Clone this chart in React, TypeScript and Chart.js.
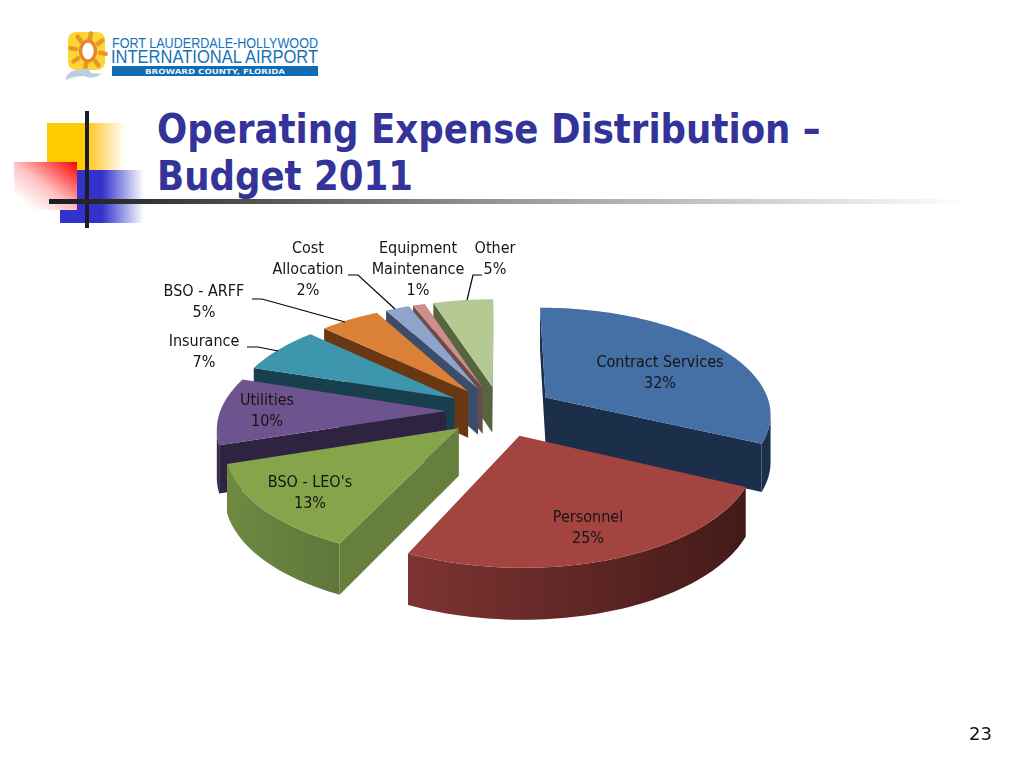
import React, { useEffect, useRef } from "react";
import { Chart, registerables } from "chart.js";

Chart.register(...registerables);

const categories = ["Contract Services", "Personnel", "BSO - LEO's", "Utilities", "Insurance", "BSO - ARFF", "Cost Allocation", "Equipment Maintenance", "Other"];
const shares = [32, 25, 13, 10, 7, 5, 2, 1, 5];
const topColors = ["#4470a6", "#a44441", "#86a54b", "#6e548e", "#3e95ae", "#da8137", "#8da5cb", "#cd8e8d", "#b4ca92"];
const wallColors = ["#1b2f4a", "#5a2422", "#667f3c", "#2e2340", "#173f4e", "#693712", "#3b4d69", "#6d4a4b", "#56653e"];
const rimFrom = ["#2a4a72", "#7d3432", "#6e8a42", "#372a4c", "#1f5566", "#7a4216", "#45597a", "#7a5354", "#64744a"];
const rimTo = ["#1b2f4a", "#431a18", "#5f763a", "#2e2340", "#173f4e", "#693712", "#3b4d69", "#6d4a4b", "#56653e"];
const drawOrder = [8, 7, 6, 5, 4, 3, 0, 2, 1];

const labelLines = [["Contract Services"], ["Personnel"], ["BSO - LEO's"], ["Utilities"], ["Insurance"], ["BSO - ARFF"], ["Cost", "Allocation"], ["Equipment", "Maintenance"], ["Other"]];
const labelAnchors = [[660, 363], [588, 518], [310, 483], [267, 401], [204, 342], [204, 292], [308, 249], [418, 249], [495, 249]];
const leaders = [
  [[348, 275], [358, 275], [395, 309]],
  [[252, 299], [262, 299], [345, 322]],
  [[247, 347], [258, 347], [278, 351]],
  [[482, 275], [473, 275], [467, 300]],
];

const VIEW = { cx: 500.5, cy: 411, rx: 226, ry: 106, persp: 0.14, explode: 0.24, depth: 47, depthGrow: 4 };
const FONT = '"DejaVu Sans Condensed", "DejaVu Sans", sans-serif';

function project(u: number, v: number) {
  const w = 1 - VIEW.persp * v;
  return { x: VIEW.cx + (VIEW.rx * u) / w, y: VIEW.cy + (VIEW.ry * v) / w, d: VIEW.depth + VIEW.depthGrow * v };
}

const pie3d = {
  id: "pie3d",
  beforeDatasetDraw(chart: any) {
    const ctx = chart.ctx;
    const arcs = chart.getDatasetMeta(0).data;
    for (const i of drawOrder) {
      const { startAngle, endAngle } = arcs[i];
      const mid = (startAngle + endAngle) / 2;
      const ox = VIEW.explode * Math.cos(mid);
      const oy = VIEW.explode * Math.sin(mid);
      const pts = [project(ox, oy)];
      const steps = Math.max(6, Math.round((endAngle - startAngle) * 40));
      for (let s = 0; s <= steps; s++) {
        const a = startAngle + ((endAngle - startAngle) * s) / steps;
        pts.push(project(ox + Math.cos(a), oy + Math.sin(a)));
      }
      const xs = pts.slice(1).map((p) => p.x);
      const grad = ctx.createLinearGradient(Math.min(...xs), 0, Math.max(...xs), 0);
      grad.addColorStop(0, rimFrom[i]);
      grad.addColorStop(1, rimTo[i]);
      const quad = (p: any, q: any) => {
        ctx.moveTo(p.x, p.y);
        ctx.lineTo(q.x, q.y);
        ctx.lineTo(q.x, q.y + q.d);
        ctx.lineTo(p.x, p.y + p.d);
        ctx.closePath();
      };
      ctx.fillStyle = wallColors[i];
      ctx.beginPath();
      if (pts[1].x - pts[0].x < 0) quad(pts[0], pts[1]);
      if (pts[0].x - pts[pts.length - 1].x < 0) quad(pts[pts.length - 1], pts[0]);
      ctx.fill();
      ctx.fillStyle = grad;
      ctx.beginPath();
      for (let k = 1; k < pts.length - 1; k++) {
        if (pts[k + 1].x - pts[k].x < 0) quad(pts[k], pts[k + 1]);
      }
      ctx.fill();
      ctx.beginPath();
      pts.forEach((p, k) => (k ? ctx.lineTo(p.x, p.y) : ctx.moveTo(p.x, p.y)));
      ctx.closePath();
      ctx.fillStyle = topColors[i];
      ctx.fill();
    }
    return false;
  },
  afterDatasetsDraw(chart: any) {
    const ctx = chart.ctx;
    ctx.save();
    ctx.strokeStyle = "#000";
    ctx.lineWidth = 1.2;
    for (const l of leaders) {
      ctx.beginPath();
      l.forEach(([x, y], k) => (k ? ctx.lineTo(x, y) : ctx.moveTo(x, y)));
      ctx.stroke();
    }
    ctx.font = `16px ${FONT}`;
    ctx.fillStyle = "#151515";
    ctx.textAlign = "center";
    ctx.textBaseline = "middle";
    categories.forEach((_, i) => {
      const [x, y0] = labelAnchors[i];
      const lines = [...labelLines[i], `${shares[i]}%`];
      lines.forEach((t, k) => ctx.fillText(t, x, y0 + k * 21));
    });
    ctx.restore();
  },
};

function Logo() {
  return (
    <svg width={340} height={100} style={{ position: "absolute", left: 0, top: 20 }}>
      <rect x={68} y={12} width={37} height={38} rx={8} fill="#fbd635" />
      {[10, 55, 100, 145, 190, 235, 280, 325].map((r) => (
        <rect key={r} x={85.5} y={11} width={4.5} height={10} rx={2} fill="#e9952c" transform={`rotate(${r} 88 31)`} />
      ))}
      <ellipse cx={88} cy={31} rx={7.5} ry={10} fill="#fff" stroke="#e8862a" strokeWidth={3.5} />
      <path d="M66 57 Q70 49 80 50 Q88 46 91 53 L102 54 Q92 60 84 56 Q74 56 66 60Z" fill="#bfcde0" />
      <text x={112} y={28} fontFamily="Liberation Sans" fontSize={14} fill="#1672b8" textLength={206} lengthAdjust="spacingAndGlyphs">FORT LAUDERDALE-HOLLYWOOD</text>
      <text x={111} y={43} fontFamily="Liberation Sans" fontSize={19} fill="#1672b8" textLength={207} lengthAdjust="spacingAndGlyphs">INTERNATIONAL AIRPORT</text>
      <rect x={112} y={46} width={206} height={10} fill="#0f6bb3" />
      <text x={145} y={54} fontFamily="DejaVu Sans" fontWeight="bold" fontSize={7} fill="#e8f0f8" textLength={140} lengthAdjust="spacingAndGlyphs">BROWARD COUNTY, FLORIDA</text>
    </svg>
  );
}

const box = (style: React.CSSProperties): React.CSSProperties => ({ position: "absolute", ...style });

export default function App() {
  const ref = useRef<HTMLCanvasElement>(null);
  useEffect(() => {
    const chart = new Chart(ref.current!, {
      type: "pie",
      data: { labels: categories, datasets: [{ data: shares, backgroundColor: topColors }] },
      options: {
        responsive: false,
        devicePixelRatio: 1,
        animation: false,
        plugins: { legend: { display: false }, tooltip: { enabled: false } },
      },
      plugins: [pie3d],
    } as any);
    return () => chart.destroy();
  }, []);
  return (
    <div style={box({ left: 0, top: 0, width: 1024, height: 768, background: "#fff", overflow: "hidden" })}>
      <Logo />
      <div style={box({ left: 47, top: 123, width: 78, height: 47, background: "linear-gradient(to right,#ffcc00 0%,#ffcc00 50%,#ffd050 62%,#fff 100%)" })} />
      <div style={box({ left: 60, top: 170, width: 84, height: 53, background: "linear-gradient(to right,#3333cc 0%,#3333cc 50%,#fff 100%)" })} />
      <div style={box({ left: 14, top: 162, width: 63, height: 48, background: "linear-gradient(to top right,#fff 15%,#ffc0c0 50%,#ff0000 100%)" })} />
      <div style={box({ left: 85, top: 111, width: 4, height: 117, background: "#1c1c2c" })} />
      <div style={box({ left: 49, top: 199, width: 920, height: 5, background: "linear-gradient(to right,#1c1c1c 0%,#333 10%,#999 50%,#fff 100%)" })} />
      <div style={box({ left: 157, top: 106, color: "#333399", font: 'bold 40px/47px "DejaVu Sans", sans-serif', whiteSpace: "nowrap", transform: "scaleX(0.89)", transformOrigin: "left top", opacity: 0.999 })}>
        Operating Expense Distribution –<br />Budget 2011
      </div>
      <canvas ref={ref} width={1024} height={768} style={box({ left: 0, top: 0 })} />
      <div style={box({ left: 969, top: 723, color: "#111", font: '18px "DejaVu Sans", sans-serif' })}>23</div>
    </div>
  );
}
